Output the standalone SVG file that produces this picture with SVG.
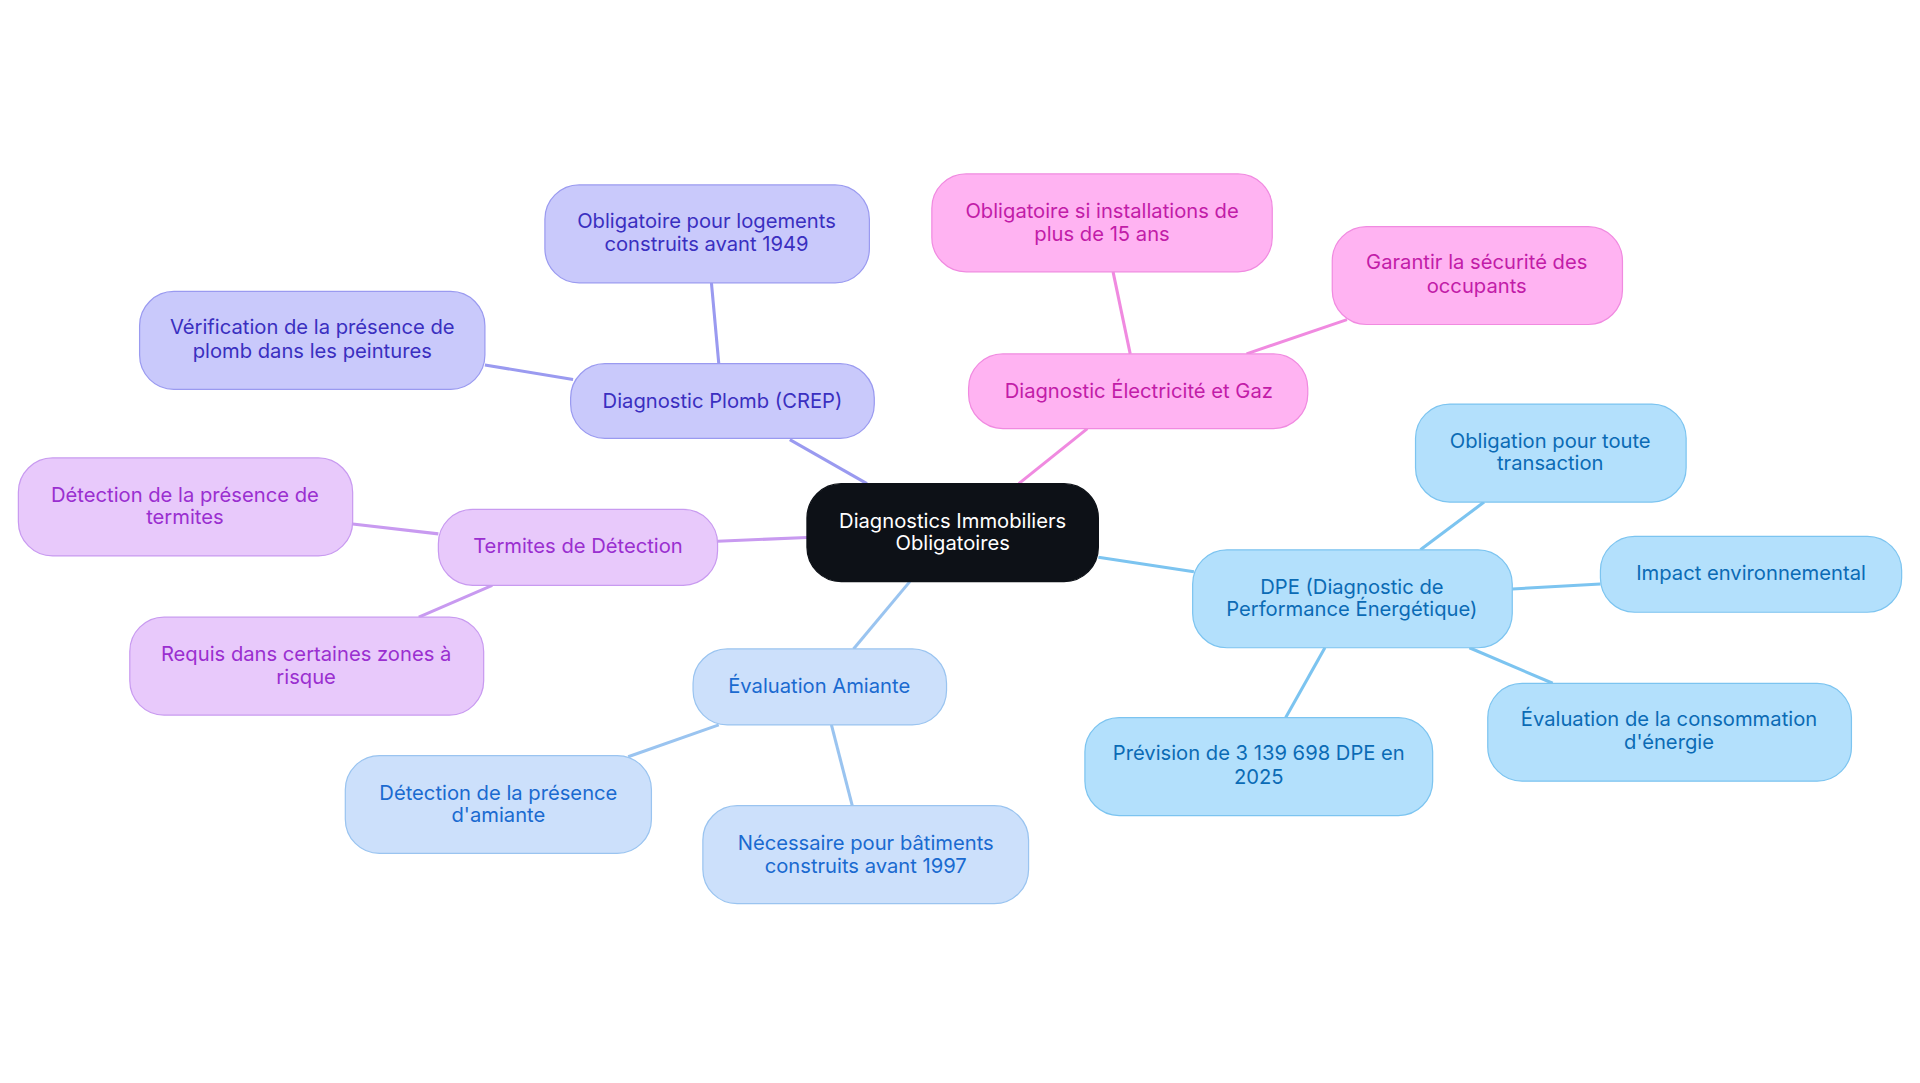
<svg xmlns="http://www.w3.org/2000/svg" width="1920" height="1083" viewBox="0 0 1920 1083">
<style>
text{font-family:Inter,"Noto Sans",sans-serif;font-size:16.5px;text-anchor:middle}
.c rect{fill:#0d1117;stroke:#0d1117}.c text{fill:#fff}
.p rect{fill:#c9c9fb;stroke:#9a9af0}.p text{fill:#3a2fc0}
.e rect{fill:#ffb3f2;stroke:#f08ae0}.e text{fill:#c21ca8}
.d rect{fill:#b3e0fc;stroke:#7cc4f0}.d text{fill:#0b6bb5}
.t rect{fill:#e8c9fb;stroke:#c89af0}.t text{fill:#9a2fd0}
.a rect{fill:#cce0fb;stroke:#9ac4f0}.a text{fill:#1a6ad0}
line{stroke-width:2.5}
</style>
<rect width="1920" height="1083" fill="#fff"/>
<g transform="scale(1.2245)">
<g id="connectors">
<line x1="708" y1="395" x2="645" y2="359" stroke="#9a9af0"/>
<line x1="587" y1="297" x2="581" y2="231" stroke="#9a9af0"/>
<line x1="468" y1="310" x2="396" y2="298" stroke="#9a9af0"/>
<line x1="832" y1="395" x2="888" y2="350" stroke="#f08ae0"/>
<line x1="923" y1="289" x2="909" y2="222" stroke="#f08ae0"/>
<line x1="1018" y1="289" x2="1100" y2="261" stroke="#f08ae0"/>
<line x1="897" y1="455" x2="975" y2="467" stroke="#7cc4f0"/>
<line x1="1160" y1="449" x2="1212" y2="410" stroke="#7cc4f0"/>
<line x1="1235" y1="481" x2="1307" y2="477" stroke="#7cc4f0"/>
<line x1="1200" y1="529" x2="1268" y2="558" stroke="#7cc4f0"/>
<line x1="1082" y1="529" x2="1050" y2="586" stroke="#7cc4f0"/>
<line x1="659" y1="439" x2="586" y2="442" stroke="#c89af0"/>
<line x1="358" y1="436" x2="288" y2="428" stroke="#c89af0"/>
<line x1="402" y1="478" x2="342" y2="504" stroke="#c89af0"/>
<line x1="743" y1="475" x2="697" y2="530" stroke="#9ac4f0"/>
<line x1="587" y1="592" x2="513" y2="618" stroke="#9ac4f0"/>
<line x1="679" y1="592" x2="696" y2="658" stroke="#9ac4f0"/>
</g>
<g id="center" class="c"><rect x="659" y="395" width="238" height="80" rx="28"/><text x="778" y="431">Diagnostics Immobiliers</text><text x="778" y="449">Obligatoires</text></g>
<g id="plomb" class="p"><rect x="466" y="297" width="248" height="61" rx="28"/><text x="590" y="333">Diagnostic Plomb (CREP)</text></g>
<g id="plomb1" class="p"><rect x="445" y="151" width="265" height="80" rx="28"/><text x="577" y="186">Obligatoire pour logements</text><text x="577" y="205">construits avant 1949</text></g>
<g id="plomb2" class="p"><rect x="114" y="238" width="282" height="80" rx="28"/><text x="255" y="273">Vérification de la présence de</text><text x="255" y="292">plomb dans les peintures</text></g>
<g id="elec" class="e"><rect x="791" y="289" width="277" height="61" rx="28"/><text x="930" y="325">Diagnostic Électricité et Gaz</text></g>
<g id="elec1" class="e"><rect x="761" y="142" width="278" height="80" rx="28"/><text x="900" y="178">Obligatoire si installations de</text><text x="900" y="197">plus de 15 ans</text></g>
<g id="elec2" class="e"><rect x="1088" y="185" width="237" height="80" rx="28"/><text x="1206" y="220">Garantir la sécurité des</text><text x="1206" y="239">occupants</text></g>
<g id="dpe" class="d"><rect x="974" y="449" width="261" height="80" rx="28"/><text x="1104" y="485">DPE (Diagnostic de</text><text x="1104" y="503">Performance Énergétique)</text></g>
<g id="dpe1" class="d"><rect x="1156" y="330" width="221" height="80" rx="28"/><text x="1266" y="366">Obligation pour toute</text><text x="1266" y="384">transaction</text></g>
<g id="dpe2" class="d"><rect x="1307" y="438" width="246" height="62" rx="28"/><text x="1430" y="474">Impact environnemental</text></g>
<g id="dpe3" class="d"><rect x="1215" y="558" width="297" height="80" rx="28"/><text x="1363" y="593">Évaluation de la consommation</text><text x="1363" y="612">d'énergie</text></g>
<g id="dpe4" class="d"><rect x="886" y="586" width="284" height="80" rx="28"/><text x="1028" y="621">Prévision de 3 139 698 DPE en</text><text x="1028" y="640">2025</text></g>
<g id="term" class="t"><rect x="358" y="416" width="228" height="62" rx="28"/><text x="472" y="452">Termites de Détection</text></g>
<g id="term1" class="t"><rect x="15" y="374" width="273" height="80" rx="28"/><text x="151" y="410">Détection de la présence de</text><text x="151" y="428">termites</text></g>
<g id="term2" class="t"><rect x="106" y="504" width="289" height="80" rx="28"/><text x="250" y="540">Requis dans certaines zones à</text><text x="250" y="559">risque</text></g>
<g id="ami" class="a"><rect x="566" y="530" width="207" height="62" rx="28"/><text x="669" y="566">Évaluation Amiante</text></g>
<g id="ami1" class="a"><rect x="282" y="617" width="250" height="80" rx="28"/><text x="407" y="653">Détection de la présence</text><text x="407" y="671">d'amiante</text></g>
<g id="ami2" class="a"><rect x="574" y="658" width="266" height="80" rx="28"/><text x="707" y="694">Nécessaire pour bâtiments</text><text x="707" y="713">construits avant 1997</text></g>
</g>
</svg>
